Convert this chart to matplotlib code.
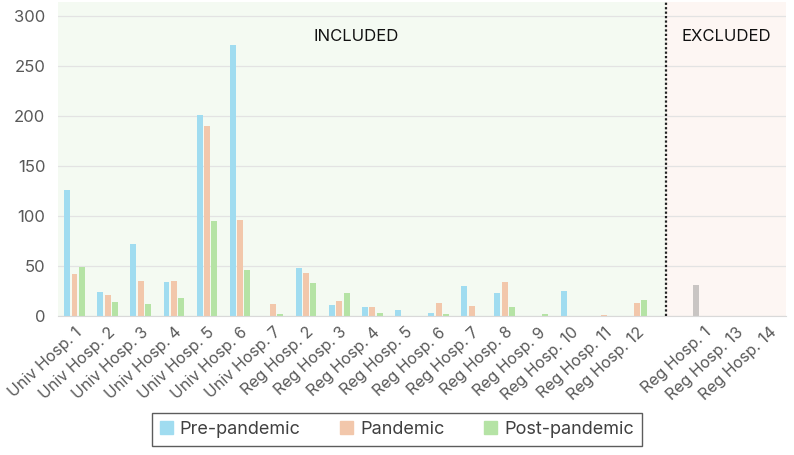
import numpy as np
import matplotlib.pyplot as plt
from matplotlib.patches import Patch

plt.rcParams['font.family'] = ['Inter', 'DejaVu Sans']

# hospitals, in chart order ("" = empty slot between the two groups)
hospitals = ["Univ Hosp. 1", "Univ Hosp. 2", "Univ Hosp. 3", "Univ Hosp. 4",
             "Univ Hosp. 5", "Univ Hosp. 6", "Univ Hosp. 7",
             "Reg Hosp. 2", "Reg Hosp. 3", "Reg Hosp. 4", "Reg Hosp. 5",
             "Reg Hosp. 6", "Reg Hosp. 7", "Reg Hosp. 8", "Reg Hosp. 9",
             "Reg Hosp. 10", "Reg Hosp. 11", "Reg Hosp. 12",
             "", "Reg Hosp. 1", "Reg Hosp. 13", "Reg Hosp. 14"]

pre = [126, 24, 72, 34, 201, 271, 0, 48, 11, 9, 6, 3, 30, 23, 0, 25, 0, 0,
       0, 0, 0, 0]
pandemic = [42, 21, 35, 35, 190, 96, 12, 43, 15, 9, 0, 13, 10, 34, 0, 0, 1, 13,
            0, 0, 0, 0]
post = [49, 14, 12, 18, 95, 46, 2, 33, 23, 3, 0, 2, 0, 9, 2, 0, 0, 16,
        0, 0, 0, 0]
# excluded hospitals, pre-pandemic only (drawn grey)
excluded_pre = [0] * 19 + [31, 0, 0]

x = np.arange(len(hospitals))
w = 0.18
off = 0.22

fig, ax = plt.subplots(figsize=(7.94, 4.55), dpi=100)
fig.subplots_adjust(left=0.073, right=0.99, top=0.995, bottom=0.305)

split = 17.86
ax.axvspan(-0.5, split, color="#f4faf2", zorder=0)
ax.axvspan(split, len(hospitals) - 0.5, color="#fdf6f3", zorder=0)
ax.axvline(split, color="#222222", ls=(0, (1, 1)), lw=1.6, zorder=3)

ax.bar(x - off, pre, w, color="#a0dcf0", zorder=2)
ax.bar(x, pandemic, w, color="#f2c7ab", zorder=2)
ax.bar(x + off, post, w, color="#b5e3a5", zorder=2)
ax.bar(x - off, excluded_pre, w, color="#c9c5c3", zorder=2)

ax.set_xlim(-0.5, len(hospitals) - 0.5)
ax.set_ylim(0, 314)
ax.set_yticks(range(0, 301, 50))
ax.yaxis.grid(True, color="#e3e3e3", lw=0.9, zorder=1)
ax.set_axisbelow(True)
for s in ["top", "right", "left"]:
    ax.spines[s].set_visible(False)
ax.spines["bottom"].set_color("#d9d9d9")
ax.tick_params(axis="both", length=0, colors="#595959")
ax.tick_params(axis="y", pad=9, labelsize=12)

ax.set_xticks(x)
ax.set_xticklabels(hospitals, rotation=43, ha="right", va="top",
                   rotation_mode="anchor")
ax.tick_params(axis="x", pad=6, labelsize=11.5)

ax.text(8.5, 280, "INCLUDED", ha="center", va="center", fontsize=12, color="#111111")
ax.text(19.7, 280, "EXCLUDED", ha="center", va="center", fontsize=12, color="#111111")

handles = [Patch(color="#a0dcf0", label="Pre-pandemic"),
           Patch(color="#f2c7ab", label="Pandemic"),
           Patch(color="#b5e3a5", label="Post-pandemic")]
leg = fig.legend(handles=handles, loc="lower center", bbox_to_anchor=(0.5, 0.0),
                 ncol=3, fontsize=13, frameon=True, fancybox=False,
                 handlelength=0.7, handleheight=0.7, handletextpad=0.4,
                 columnspacing=2.2, borderpad=0.45)
leg.get_frame().set_edgecolor("#333333")
leg.get_frame().set_linewidth(1.0)
for t in leg.get_texts():
    t.set_color("#404040")

fig.savefig("out.png", dpi=100)
